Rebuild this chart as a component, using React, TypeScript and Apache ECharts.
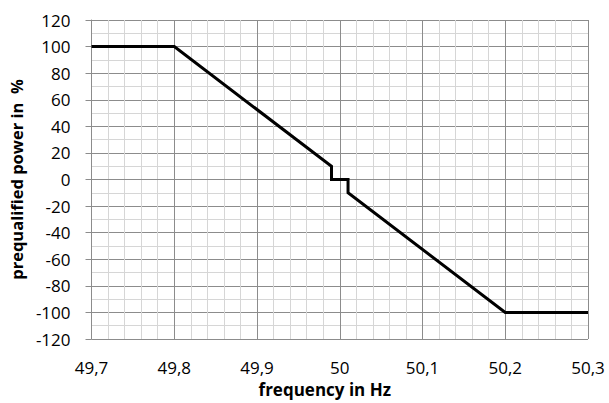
import React, { useEffect, useRef } from "react";
import * as echarts from "echarts";

const frequency = [49.7, 49.8, 49.99, 49.99, 50.01, 50.01, 50.2, 50.3];
const power = [100, 100, 10, 0, 0, -10, -100, -100];

const xTitle = "frequency in Hz";
const yTitle = "prequalified power in  %";

export default function App() {
  const ref = useRef<HTMLDivElement>(null);
  useEffect(() => {
    if (!ref.current) return;
    const chart = echarts.init(ref.current, undefined, { renderer: "svg" });
    const major = "#8c8c8c";
    const minor = "#d6d6d6";
    const font = "'Open Sans', sans-serif";
    chart.setOption({
      animation: false,
      backgroundColor: "#ffffff",
      grid: { left: 91, right: 21, top: 20, bottom: 61, containLabel: false },
      xAxis: {
        type: "value",
        min: 49.7,
        max: 50.3,
        interval: 0.1,
        name: xTitle,
        nameLocation: "middle",
        nameGap: 42,
        nameTextStyle: { fontFamily: font, fontWeight: "bold", fontSize: 17, color: "#000", padding: [0, 30, 0, 0] },
        axisLine: { show: true, lineStyle: { color: major, width: 1 } },
        axisTick: { show: false },
        axisLabel: {
          margin: 20,
          fontFamily: font,
          fontSize: 17,
          color: "#000",
          formatter: (v: number) => String(Number(v.toFixed(1))).replace(".", ","),
        },
        splitLine: { show: true, lineStyle: { color: major, width: 1 } },
        minorTick: { show: false, splitNumber: 5 },
        minorSplitLine: { show: true, lineStyle: { color: minor, width: 1 } },
      },
      yAxis: {
        type: "value",
        min: -120,
        max: 120,
        interval: 20,
        name: yTitle,
        nameLocation: "middle",
        nameGap: 65,
        nameTextStyle: { fontFamily: font, fontWeight: "bold", fontSize: 16.5, color: "#000" },
        axisLine: { show: true, lineStyle: { color: major, width: 1 } },
        axisTick: { show: true, length: 6, lineStyle: { color: major } },
        axisLabel: { margin: 21, fontFamily: font, fontSize: 17, color: "#000" },
        splitLine: { show: true, lineStyle: { color: major, width: 1 } },
        minorTick: { show: false, splitNumber: 2 },
        minorSplitLine: { show: true, lineStyle: { color: minor, width: 1 } },
      },
      series: [
        {
          type: "line",
          data: frequency.map((f, i) => [f, power[i]]),
          showSymbol: false,
          symbol: "none",
          lineStyle: { color: "#000", width: 3, join: "miter" },
        },
      ],
    });
    return () => chart.dispose();
  }, []);
  return <div ref={ref} style={{ width: 609, height: 403, position: "absolute", left: 0, top: 0 }} />;
}
